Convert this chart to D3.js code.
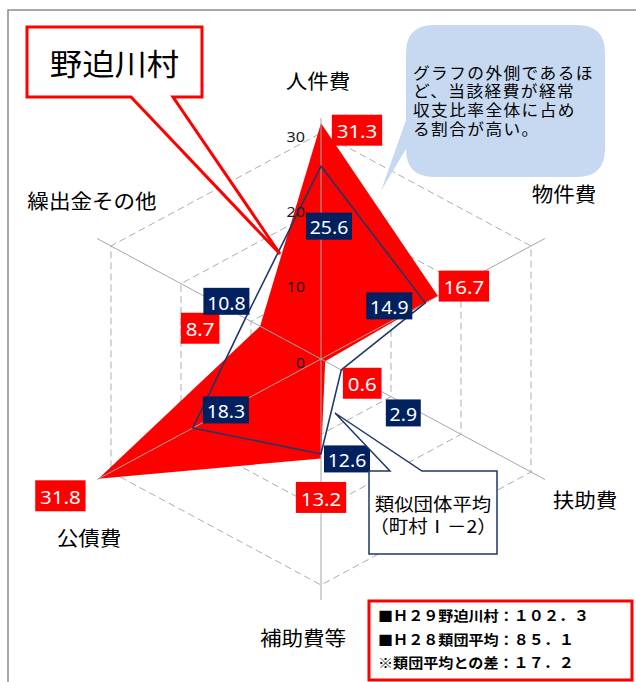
<!DOCTYPE html>
<html>
<head>
<meta charset="utf-8">
<script src="https://cdn.jsdelivr.net/npm/d3@7"></script>
<style>
  body { margin: 0; background: #fff; }
  svg { display: block; }
</style>
</head>
<body>
<div id="chart"></div>
<script>
// 経常収支比率の分析 (レーダー)
const categories = ["人件費", "物件費", "扶助費", "補助費等", "公債費", "繰出金その他"];
const nosegawa = [31.3, 16.7, 0.6, 13.2, 31.8, 8.7];   // H29 野迫川村
const ruidan = [25.6, 14.9, 2.9, 12.6, 18.3, 10.8];    // 類似団体平均
const gridTicks = [0, 10, 20, 30];
const titleText = "野迫川村";
const noteLines = ["グラフの外側であるほ", "ど、当該経費が経常", "収支比率全体に占め", "る割合が高い。"];
const ruidanLines = ["類似団体平均", "（町村Ⅰ－2）"];
const legendLines = ["■Ｈ２９野迫川村：１０２．３", "■Ｈ２８類団平均：８５．１", "※類団平均との差：１７．２"];

// label nudges in px, away from the point they belong to
const redLabelOff = [[36, 7], [26, -10], [37, 22], [0, 39], [-38, 17], [-60, 2]];
const navyLabelOff = [[8, 60], [-36, 3], [62, 43], [26, 5], [33, -18], [-19, -17]];
const catLabelOff = [[-3, -38], [19, -45], [40, 20], [-18, 37], [-8, 58], [-5, -38]];

const W = 636, H = 682;
const cx = 321, cy = 359;
const sx = 1.078; // the picture is stretched a bit sideways
const jpFont = "'Noto Sans CJK JP', 'Noto Sans', sans-serif";
const numFont = "'Noto Sans', 'DejaVu Sans', sans-serif";
const RED = "#ff0000", NAVY = "#1f3864", NAVYBOX = "#002060";

const svg = d3.select("#chart").append("svg")
    .attr("width", W).attr("height", H);

const rX = d3.scaleLinear().domain([0, 30]).range([0, 242.5]);
const rY = d3.scaleLinear().domain([0, 30]).range([0, 226]);
const ang = d3.scaleLinear().domain([0, categories.length]).range([0, 2 * Math.PI]);

const pt = (v, i) => [cx + rX(v) * Math.sin(ang(i)), cy - rY(v) * Math.cos(ang(i))];

function sText(parent, x, y, str, size, opts = {}) {
    const g = parent.append("g").attr("transform", `translate(${x},${y}) scale(${sx},1)`);
    const t = g.append("text")
        .attr("text-anchor", opts.anchor || "middle")
        .attr("dominant-baseline", "central")
        .attr("fill", opts.fill || "#000")
        .style("font-family", opts.font || jpFont)
        .style("font-size", size + "px")
        .style("font-weight", opts.weight || "normal")
        .style("letter-spacing", (opts.ls || 0) + "px")
        .text(str);
    return { g, t };
}

// frame
svg.append("rect")
    .attr("x", 8).attr("y", 10).attr("width", 700).attr("height", 700)
    .attr("fill", "none").attr("stroke", "#8c8c8c").attr("stroke-width", 1.5);

// grid hexagons
const closed = d3.line().curve(d3.curveLinearClosed);
gridTicks.filter(t => t > 0).forEach(t => {
    svg.append("path")
        .attr("d", closed(categories.map((c, i) => pt(t, i))))
        .attr("fill", "none")
        .attr("stroke", "#adadad")
        .attr("stroke-dasharray", "7,4");
});

// 野迫川村 area
svg.append("path")
    .attr("d", closed(nosegawa.map(pt)))
    .attr("fill", RED);

// spokes
categories.forEach((c, i) => {
    const e = pt(32, i);
    svg.append("line")
        .attr("x1", cx).attr("y1", cy).attr("x2", e[0]).attr("y2", e[1])
        .attr("stroke", "#a6a6a6").attr("stroke-width", 1);
});

// 類似団体平均 line
svg.append("path")
    .attr("d", closed(ruidan.map(pt)))
    .attr("fill", "none")
    .attr("stroke", NAVY)
    .attr("stroke-width", 1.6)
    .attr("stroke-linejoin", "round");

// value axis labels
gridTicks.forEach(t => {
    sText(svg, cx - 16, cy - rY(t) + 3, t, 15, { anchor: "end", font: numFont, fill: "#1a1a1a" });
});

// category labels
categories.forEach((c, i) => {
    const e = pt(32, i);
    sText(svg, e[0] + catLabelOff[i][0], e[1] + catLabelOff[i][1], c, 20);
});

// data labels
function valueLabel(v, i, off, fill, size, padX, h) {
    const p = pt(v, i);
    const { g, t } = sText(svg, p[0] + off[0], p[1] + off[1], v.toFixed(1), size, { font: numFont, fill: "#fff" });
    t.attr("dy", 1);
    const w = t.node().getComputedTextLength() + padX * 2;
    g.insert("rect", "text")
        .attr("x", -w / 2).attr("y", -h / 2).attr("width", w).attr("height", h)
        .attr("fill", fill);
}
nosegawa.forEach((v, i) => valueLabel(v, i, redLabelOff[i], RED, 19, 4.5, 31));
ruidan.forEach((v, i) => valueLabel(v, i, navyLabelOff[i], NAVYBOX, 18, 3.5, 27));

// 野迫川村 callout
svg.append("path")
    .attr("d", "M27,27 H202 V97 H173 L280,254 L131,97 H27 Z")
    .attr("fill", "#fff").attr("stroke", RED).attr("stroke-width", 3)
    .attr("stroke-linejoin", "miter");
sText(svg, 114.5, 62, titleText, 30);

// note callout
svg.append("path")
    .attr("d", "M434,25 H577 Q605,25 605,53 V149 Q605,177 577,177 H434 Q406,177 406,149 L381,191 L406,120 V53 Q406,25 434,25 Z")
    .attr("fill", "#c6d9f1");
noteLines.forEach((s, k) => {
    sText(svg, 413, 72 + k * 18.6, s, 15.5, { anchor: "start", ls: 1.3 });
});

// 類似団体平均 callout
svg.append("path")
    .attr("d", "M369,471 H390 L335,413 L422,471 H497 V554 H369 Z")
    .attr("fill", "#fff").attr("stroke", NAVY).attr("stroke-width", 1.5);
ruidanLines.forEach((s, k) => {
    sText(svg, 433, 503 + k * 22, s, 18);
});

// summary box
svg.append("rect")
    .attr("x", 369).attr("y", 601).attr("width", 263).attr("height", 79)
    .attr("fill", "#fff").attr("stroke", RED).attr("stroke-width", 3);
legendLines.forEach((s, k) => {
    sText(svg, 378, 615 + k * 23.5, s, 14, { anchor: "start", weight: "bold" });
});
</script>
</body>
</html>
